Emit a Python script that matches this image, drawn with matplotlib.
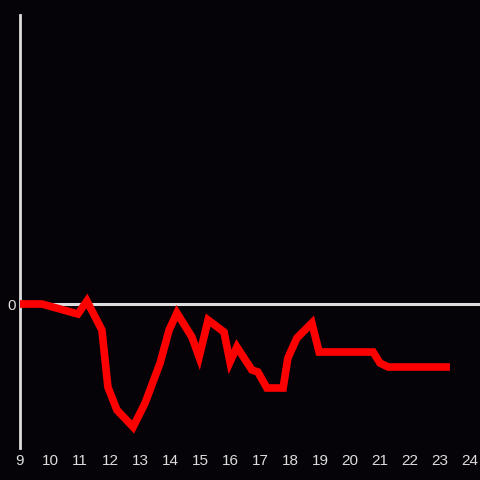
import matplotlib
matplotlib.use("Agg")
import matplotlib.pyplot as plt

# values
x = [9.0, 9.73, 10.93, 11.23, 11.73, 11.93, 12.23, 12.77, 13.17, 13.67,
     13.97, 14.23, 14.73, 14.97, 15.27, 15.8, 16.0, 16.23, 16.73, 16.93,
     17.23, 17.77, 17.93, 18.23, 18.73, 18.97, 20.77, 21.0, 21.27, 23.33]
y = [0.0, 0.0, -1.0, 0.3, -2.6, -8.3, -10.6, -12.3, -9.9, -5.9,
     -2.6, -0.9, -3.3, -5.3, -1.6, -2.8, -5.8, -4.3, -6.6, -6.8,
     -8.4, -8.4, -5.4, -3.4, -1.9, -4.8, -4.8, -5.9, -6.3, -6.3]
xticks = list(range(9, 25))

bg = "#050307"
fg = "#dddddd"

fig = plt.figure(figsize=(4.8, 4.8), dpi=100, facecolor=bg)
ax = fig.add_axes([20 / 480, 32 / 480, 460 / 480, 433 / 480], facecolor=bg)

ax.axhline(0, color=fg, lw=2.2, zorder=1)
ax.plot(x, y, color="#ff0000", lw=5.5, solid_capstyle="butt", solid_joinstyle="miter", zorder=3)

ax.set_xlim(9, 9 + 460 / 30)
ax.set_ylim(-14.4, 28.9)

for s in ["top", "right", "bottom"]:
    ax.spines[s].set_visible(False)
ax.spines["left"].set_color(fg)
ax.spines["left"].set_linewidth(2)

ax.set_xticks(xticks)
ax.set_xticklabels([str(t) for t in xticks])
ax.set_yticks([0])
ax.set_yticklabels(["0"])
ax.tick_params(length=0, colors=fg, labelsize=11, pad=4)
ax.tick_params(axis="y", pad=3)
for lab in ax.get_xticklabels() + ax.get_yticklabels():
    lab.set_fontfamily("Liberation Sans")

fig.savefig("out.png", dpi=100, facecolor=bg)
